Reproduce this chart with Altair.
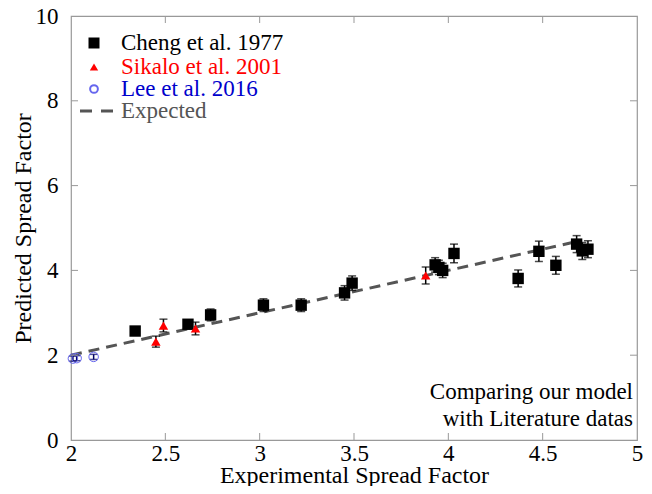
import altair as alt
import pandas as pd

# ---- data ----
cheng_x = [2.34, 2.62, 2.74, 3.02, 3.22, 3.45, 3.49, 3.93, 3.95, 3.97, 4.03, 4.37, 4.48, 4.57, 4.68, 4.71, 4.74]
cheng_y = [2.57, 2.73, 2.95, 3.18, 3.18, 3.47, 3.70, 4.13, 4.07, 4.00, 4.40, 3.81, 4.45, 4.12, 4.62, 4.46, 4.50]
cheng_err = [0.10, 0.10, 0.14, 0.15, 0.15, 0.17, 0.17, 0.17, 0.17, 0.17, 0.22, 0.20, 0.24, 0.21, 0.20, 0.20, 0.20]

sikalo_x = [2.45, 2.49, 2.66, 3.88]
sikalo_y = [2.32, 2.70, 2.63, 3.88]
sikalo_err = [0.13, 0.15, 0.15, 0.20]

lee_x = [2.01, 2.03, 2.12]
lee_y = [1.92, 1.93, 1.96]
lee_err = [0.06, 0.06, 0.06]

expected_x = [2.0, 4.7]
expected_y = [2.0, 4.7]

x_ticks = [2, 2.5, 3, 3.5, 4, 4.5, 5]
y_ticks = [0, 2, 4, 6, 8, 10]

legend_labels = ["Cheng et al. 1977", "Sikalo et al. 2001", "Lee et al. 2016", "Expected"]
legend_colors = ["#000000", "#ff0000", "#0000cc", "#555555"]

W, H = 566, 424
FONT = "Liberation Serif"
FS = 23

def frame(xs, ys, es):
    return pd.DataFrame({"x": xs, "y": ys, "lo": [a - b for a, b in zip(ys, es)],
                         "hi": [a + b for a, b in zip(ys, es)]})

cheng = frame(cheng_x, cheng_y, cheng_err)
sikalo = frame(sikalo_x, sikalo_y, sikalo_err)
lee = frame(lee_x, lee_y, lee_err)
expected = pd.DataFrame({"x": expected_x, "y": expected_y})

xs = alt.Scale(domain=[2, 5], nice=False, zero=False)
ys = alt.Scale(domain=[0, 10], nice=False)

X = alt.X("x:Q", scale=xs, axis=alt.Axis(values=x_ticks, format="~g", title="Experimental Spread Factor",
                                        labelFlush=False, domain=False, ticks=False, grid=False,
                                        labelPadding=2, titlePadding=-2))
Y = alt.Y("y:Q", scale=ys, axis=alt.Axis(values=y_ticks, format="d", title="Predicted Spread Factor",
                                        labelFlush=False, domain=False, ticks=False, grid=False,
                                        labelPadding=13, titlePadding=0))

def errbars(df, color):
    rule = alt.Chart(df).mark_rule(color=color, strokeWidth=1.5).encode(
        x=alt.X("x:Q", scale=xs), y=alt.Y("lo:Q", scale=ys), y2="hi:Q")
    cap_lo = alt.Chart(df).mark_tick(color=color, size=8, thickness=1.5, orient="horizontal").encode(
        x=alt.X("x:Q", scale=xs), y=alt.Y("lo:Q", scale=ys))
    cap_hi = alt.Chart(df).mark_tick(color=color, size=8, thickness=1.5, orient="horizontal").encode(
        x=alt.X("x:Q", scale=xs), y=alt.Y("hi:Q", scale=ys))
    return rule + cap_lo + cap_hi

line = alt.Chart(expected).mark_line(color="#555555", strokeWidth=3, strokeDash=[11, 7]).encode(x=X, y=Y)

cheng_pts = alt.Chart(cheng).mark_point(shape="square", filled=True, color="#000000", size=130, opacity=1).encode(
    x=alt.X("x:Q", scale=xs), y=alt.Y("y:Q", scale=ys))
sikalo_pts = alt.Chart(sikalo).mark_point(shape="triangle-up", filled=True, color="#ff0000", size=90, opacity=1).encode(
    x=alt.X("x:Q", scale=xs), y=alt.Y("y:Q", scale=ys))
lee_pts = alt.Chart(lee).mark_point(shape="circle", filled=False, color="#6666ee", size=90, strokeWidth=1, opacity=1).encode(
    x=alt.X("x:Q", scale=xs), y=alt.Y("y:Q", scale=ys))

# inward ticks on all four sides
xt = pd.DataFrame({"t": x_ticks[1:-1]})
yt = pd.DataFrame({"t": y_ticks[1:-1]})
TICK = 7
tick_col = "#999999"
bt = alt.Chart(xt).mark_rule(color=tick_col, strokeWidth=1).encode(
    x=alt.X("t:Q", scale=xs), y=alt.value(H), y2=alt.value(H - TICK))
tt = alt.Chart(xt).mark_rule(color=tick_col, strokeWidth=1).encode(
    x=alt.X("t:Q", scale=xs), y=alt.value(0), y2=alt.value(TICK))
lt = alt.Chart(yt).mark_rule(color=tick_col, strokeWidth=1).encode(
    y=alt.Y("t:Q", scale=ys), x=alt.value(0), x2=alt.value(TICK))
rt = alt.Chart(yt).mark_rule(color=tick_col, strokeWidth=1).encode(
    y=alt.Y("t:Q", scale=ys), x=alt.value(W), x2=alt.value(W - TICK))

# manual legend
leg_y = [27, 51, 73, 95]
one = pd.DataFrame({"a": [0]})
leg_layers = []
for lab, col, yy in zip(legend_labels, legend_colors, leg_y):
    leg_layers.append(alt.Chart(pd.DataFrame({"label": [lab]})).mark_text(
        font=FONT, fontSize=FS, align="left", baseline="middle", color=col).encode(
        x=alt.value(50), y=alt.value(yy), text="label:N"))
leg_layers.append(alt.Chart(one).mark_point(shape="square", filled=True, color="#000000", size=121, opacity=1).encode(
    x=alt.value(23), y=alt.value(leg_y[0])))
leg_layers.append(alt.Chart(one).mark_point(shape="triangle-up", filled=True, color="#ff0000", size=70, opacity=1).encode(
    x=alt.value(23), y=alt.value(leg_y[1])))
leg_layers.append(alt.Chart(one).mark_point(shape="circle", filled=False, color="#6666ee", size=60, opacity=1).encode(
    x=alt.value(23), y=alt.value(leg_y[2])))
leg_layers.append(alt.Chart(one).mark_rule(color="#555555", strokeWidth=3, strokeDash=[12, 9]).encode(
    x=alt.value(9), x2=alt.value(42), y=alt.value(leg_y[3])))

note = alt.Chart(pd.DataFrame({"t": [["Comparing our model", "with Literature datas"]]})).mark_text(
    font=FONT, fontSize=FS, align="right", baseline="middle", lineHeight=27, color="#000000").encode(
    x=alt.value(W - 4), y=alt.value(376), text="t")

chart = alt.layer(
    line,
    errbars(cheng, "#000000"), cheng_pts,
    errbars(sikalo, "#000000"), sikalo_pts,
    errbars(lee, "#000066"), lee_pts,
    bt, tt, lt, rt,
    *leg_layers,
    note,
).properties(
    width=W, height=H,
    autosize=alt.AutoSizeParams(type="none"),
    padding={"left": 63, "top": 8, "right": 7, "bottom": 46},
    background="white",
).configure_view(stroke="#999999", strokeWidth=1.2).configure_axis(
    labelFont=FONT, titleFont=FONT, labelFontSize=FS, titleFontSize=24,
    labelColor="#000000", titleColor="#000000", titleFontWeight="normal",
)

chart.save("out.html", embed_options={"renderer": "svg", "actions": False})
